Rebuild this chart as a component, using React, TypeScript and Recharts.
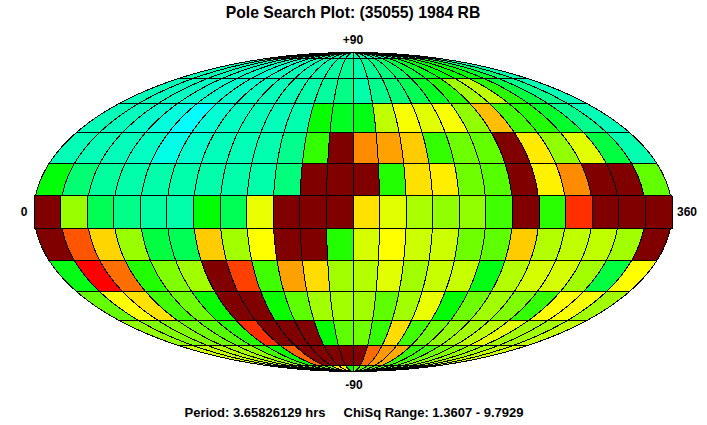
import { ScatterChart, Scatter, XAxis, YAxis } from "recharts";

// ChiSq per 15x15 degree cell, lon 0..360 left to right
const LAT_P90 = [1.55, 1.55, 1.55, 1.55, 1.55, 1.55, 1.55, 1.55, 1.55, 1.55, 1.55, 1.55, 1.55, 1.55, 1.55, 1.55, 1.55, 1.55, 1.55, 1.55, 1.55, 1.55, 1.55, 1.55];
const LAT_P75 = [1.53, 1.53, 1.52, 1.5, 1.5, 1.48, 1.5, 1.53, 1.53, 1.55, 1.58, 1.61, 1.56, 1.61, 1.66, 1.72, 1.81, 1.88, 1.94, 1.98, 1.98, 1.86, 1.69, 1.55];
const LAT_P60 = [1.53, 1.51, 1.5, 1.48, 1.48, 1.48, 1.5, 1.52, 1.53, 1.56, 1.59, 1.65, 1.56, 1.63, 1.68, 1.76, 1.88, 2.04, 2.34, 2.41, 2.06, 1.81, 1.63, 1.53];
const LAT_P45 = [1.53, 1.51, 1.48, 1.44, 1.36, 1.46, 1.5, 1.52, 1.52, 1.55, 1.98, 1.88, 1.91, 2.41, 2.54, 2.49, 2.54, 2.3, 2.71, 2.11, 2.04, 1.86, 1.63, 1.53];
const LAT_P30 = [1.53, 1.53, 1.52, 1.5, 1.42, 1.48, 1.52, 1.53, 1.55, 1.63, 2.08, 6.12, 2.83, 2.78, 2.68, 2.08, 2.22, 2.19, 5.4, 2.61, 2.3, 2.49, 1.81, 1.55];
const LAT_P15 = [1.94, 1.69, 1.59, 1.56, 1.56, 1.56, 1.56, 1.56, 1.56, 1.67, 5.2, 7.1, 6.3, 2.04, 2.63, 2.6, 2.22, 2.16, 4.9, 2.59, 2.83, 5.1, 4.6, 2.19];
const LAT_0 = [9.79, 2.32, 1.76, 1.64, 1.58, 1.56, 1.96, 1.76, 2.51, 6.8, 5.7, 7.4, 2.63, 2.49, 2.36, 2.3, 2.3, 2.11, 4.4, 2.06, 3.05, 4.7, 5.3, 6.0];
const LAT_M15 = [5.6, 2.96, 2.66, 2.32, 1.81, 1.76, 2.68, 2.34, 2.56, 6.2, 4.8, 2.04, 2.46, 2.56, 2.44, 2.44, 2.22, 2.18, 2.68, 2.38, 2.41, 2.41, 2.34, 5.0];
const LAT_M30 = [1.91, 3.16, 2.9, 2.04, 2.26, 2.34, 5.5, 3.01, 2.11, 2.78, 2.64, 2.34, 2.38, 2.49, 2.34, 2.43, 2.43, 1.91, 2.38, 2.46, 2.46, 2.34, 1.81, 2.56];
const LAT_M45 = [2.2, 2.56, 2.63, 2.11, 2.22, 1.98, 4.9, 5.8, 1.98, 2.18, 2.34, 2.34, 2.34, 2.18, 2.34, 2.51, 1.96, 2.22, 2.34, 2.26, 2.08, 2.56, 2.54, 2.34];
const LAT_M60 = [2.3, 2.26, 2.26, 2.22, 2.16, 2.04, 3.05, 6.4, 5.1, 5.9, 1.96, 2.18, 2.22, 2.08, 2.64, 2.11, 2.22, 2.3, 2.34, 2.4, 2.5, 2.34, 2.34, 2.41];
const LAT_M75 = [2.44, 2.41, 2.38, 2.34, 2.3, 2.11, 1.98, 2.93, 5.3, 6.6, 4.7, 5.2, 5.8, 2.91, 2.8, 2.76, 2.08, 2.11, 2.22, 2.26, 2.3, 2.34, 2.4, 2.44];
const LAT_M90 = [2.16, 2.16, 2.16, 2.16, 2.16, 2.16, 2.16, 2.16, 2.16, 2.61, 2.61, 1.96, 2.18, 2.16, 2.16, 2.16, 2.16, 2.16, 2.16, 2.16, 2.16, 2.16, 2.16, 2.16];

const LATS = [90, 75, 60, 45, 30, 15, 0, -15, -30, -45, -60, -75, -90];
const ROWS = [LAT_P90, LAT_P75, LAT_P60, LAT_P45, LAT_P30, LAT_P15, LAT_0, LAT_M15, LAT_M30, LAT_M45, LAT_M60, LAT_M75, LAT_M90];
const LON_STEP = 15;

const TITLE = "Pole Search Plot: (35055) 1984 RB";
const FOOTER = "Period: 3.65826129 hrs \u00a0\u00a0\u00a0 ChiSq Range: 1.3607 - 9.7929";

const CHI_MIN = 1.36;
const CHI_RED = 3.16;

// cyan -> green -> yellow -> red, anything past red is dark red
function cellColor(chi: number) {
  if (chi > CHI_RED) return "#800000";
  const hue = 180 * (1 - (chi - CHI_MIN) / (CHI_RED - CHI_MIN));
  return `hsl(${hue}, 100%, 50%)`;
}

// Mollweide auxiliary angle
function theta(lat: number) {
  const phi = (lat * Math.PI) / 180;
  if (Math.abs(lat) >= 90) return Math.sign(lat) * (Math.PI / 2);
  let t = phi;
  for (let i = 0; i < 30; i++) {
    t -= (2 * t + Math.sin(2 * t) - Math.PI * Math.sin(phi)) / (2 + 2 * Math.cos(2 * t));
  }
  return t;
}

// x in degrees from the centre meridian, y as sin(theta). The equator row has straight sides.
function project(lon: number, lat: number, flat: boolean) {
  const t = theta(lat);
  return { x: (lon - 180) * Math.cos(flat ? 0 : t), y: Math.sin(t) };
}

function cellOutline(lon: number, latCentre: number) {
  const top = Math.min(90, latCentre + 7.5);
  const bottom = Math.max(-90, latCentre - 7.5);
  const flat = latCentre === 0;
  const pts = [];
  const n = 6;
  for (let i = 0; i <= n; i++) pts.push(project(lon + LON_STEP, top - ((top - bottom) * i) / n, flat));
  for (let i = 0; i <= n; i++) pts.push(project(lon, bottom + ((top - bottom) * i) / n, flat));
  pts.push(pts[0]);
  return pts;
}

const cells = ROWS.flatMap((row, r) =>
  row.map((chi, c) => ({
    key: `${r}-${c}`,
    color: cellColor(chi),
    outline: cellOutline(c * LON_STEP, LATS[r]),
  })),
);

const labelStyle = { fontFamily: "Liberation Sans", fontWeight: 700, fontSize: 12, fill: "#000" };

export default function App() {
  return (
    <div style={{ position: "absolute", left: 0, top: 0, width: 707, height: 425, background: "#fff" }}>
      <ScatterChart width={707} height={425} margin={{ top: 52.5, right: 35, bottom: 53.5, left: 34 }}>
        <XAxis type="number" dataKey="x" domain={[-180, 180]} hide />
        <YAxis type="number" dataKey="y" domain={[-1, 1]} hide />
        {cells.map((cell) => (
          <Scatter
            key={cell.key}
            data={cell.outline}
            isAnimationActive={false}
            shape={() => null}
            line={{ fill: cell.color, stroke: "#000", strokeWidth: 1, shapeRendering: "crispEdges" }}
            lineJointType="linear"
          />
        ))}
        <text x={353} y={18} textAnchor="middle" style={{ ...labelStyle, fontSize: 15.75 }}>{TITLE}</text>
        <text x={353} y={44} textAnchor="middle" style={labelStyle}>+90</text>
        <text x={354} y={389} textAnchor="middle" style={labelStyle}>-90</text>
        <text x={24} y={216} textAnchor="middle" style={labelStyle}>0</text>
        <text x={687} y={216} textAnchor="middle" style={labelStyle}>360</text>
        <text x={354} y={417} textAnchor="middle" style={{ ...labelStyle, fontSize: 13 }}>{FOOTER}</text>
      </ScatterChart>
    </div>
  );
}
